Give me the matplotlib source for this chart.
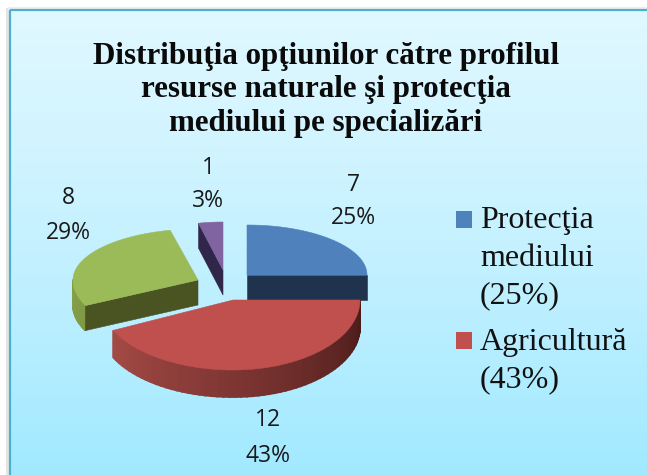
import numpy as np
import matplotlib
matplotlib.use("Agg")
import matplotlib.pyplot as plt
from matplotlib.colors import LinearSegmentedColormap, to_rgb
from matplotlib.patches import Polygon, Rectangle

title = "Distribuţia opţiunilor către profilul\nresurse naturale şi protecţia\nmediului pe specializări"
values = [7, 12, 8, 1]
percents = [25, 43, 29, 3]
legend_names = ["Protecţia\nmediului", "Agricultură"]

top_colors = ["#4f81bd", "#c0504d", "#9bbb59", "#8064a2"]
cut_colors = ["#1f334f", "#4a1c1a", "#4a5423", "#30264a"]
rim_left = ["#1f334f", "#a54a46", "#93ad52", "#30264a"]
rim_right = ["#1f334f", "#471a18", "#7f9a45", "#30264a"]
# apex x, apex y, rx right, rx left, ry back, ry front, depth
geom = [(247, 275, 120, 120, 50, 50, 25),
        (233, 300, 127, 133, 55, 70, 27),
        (198, 280, 122, 125, 51, 59, 25),
        (223, 270, 110, 110, 48, 48, 25)]
label_pos = [(353, 185, 218), (268, 420, 456), (68, 198, 233), (208, 168, 201)]

fig = plt.figure(figsize=(6.47, 4.75), dpi=100)
ax = fig.add_axes([0, 0, 1, 1])
ax.set_xlim(0, 647)
ax.set_ylim(475, 0)
ax.axis("off")

# background
ax.add_patch(Rectangle((6, 8), 4, 470, fc="#e4e4e4", ec="none", zorder=0))
ax.add_patch(Rectangle((8, 7), 645, 3, fc="#ececec", ec="none", zorder=0))
cmap = LinearSegmentedColormap.from_list("bg", ["#e1f8ff", "#c5f1ff", "#a0e9ff"])
ax.imshow(np.linspace(0, 1, 256)[:, None], extent=(10, 660, 485, 10), cmap=cmap,
          aspect="auto", zorder=1)
ax.set_xlim(0, 647)
ax.set_ylim(475, 0)
ax.add_patch(Rectangle((10, 10), 660, 490, fc="none", ec="#4bb1cc", lw=1.6, zorder=2))


def pt(g, t):
    ax0, ay0, rxr, rxl, ryb, ryf, _ = g
    s, c = np.sin(t), np.cos(t)
    x = ax0 + (rxr if s >= 0 else rxl) * s
    y = ay0 - (ryb if c >= 0 else ryf) * c
    return x, y


edges = np.deg2rad(np.concatenate([[0], np.cumsum(values)]) / sum(values) * 360)

for i in [3, 2, 0, 1]:
    g = geom[i]
    t0, t1 = edges[i], edges[i + 1]
    d = g[6]
    z = 3 + [3, 2, 0, 1].index(i) * 3
    ts = np.linspace(t0, t1, 60)
    # outer rim, drawn strip by strip on the front half
    c0, c1 = np.array(to_rgb(rim_right[i])), np.array(to_rgb(rim_left[i]))
    for a, b in zip(ts[:-1], ts[1:]):
        mid = (a + b) / 2
        if np.cos(mid) < 0:
            xa, ya = pt(g, a)
            xb, yb = pt(g, b)
            f = (mid - t0) / (t1 - t0)
            col = c0 + (c1 - c0) * f
            ax.add_patch(Polygon([(xa, ya), (xb, yb), (xb, yb + d), (xa, ya + d)],
                                 fc=col, ec=col, lw=1.3, zorder=z))
    # cut face
    cut_t = {0: t1, 2: t0, 3: t0}.get(i)
    if cut_t is not None:
        xr, yr = pt(g, cut_t)
        ax.add_patch(Polygon([(g[0], g[1]), (xr, yr), (xr, yr + d), (g[0], g[1] + d)],
                             fc=cut_colors[i], ec=cut_colors[i], lw=0.4, zorder=z + 1))
    # top surface
    arc = [pt(g, t) for t in ts]
    ax.add_patch(Polygon([(g[0], g[1])] + arc, fc=top_colors[i], ec=top_colors[i],
                         lw=0.4, zorder=z + 2))

# labels
lab_font = {"family": "Open Sans", "fontsize": 16.5, "color": "#1a1a1a",
            "ha": "center", "va": "center", "zorder": 30}
for v, p, (x, y1, y2) in zip(values, percents, label_pos):
    ax.text(x, y1, str(v), **lab_font)
    ax.text(x, y2, f"{p}%", **lab_font)

ax.text(326, 90, title, family="Liberation Serif", weight="bold", fontsize=22.3,
        ha="center", va="center", linespacing=1.22, color="#0a0a0a", zorder=30)

# legend
leg_font = {"family": "Liberation Serif", "fontsize": 23, "color": "#111111",
            "ha": "left", "va": "baseline", "zorder": 30}
leg_lines = [(211, [(228, "Protecţia"), (266, "mediului"), (303, f"({percents[0]}%)")]),
             (332, [(350, legend_names[1]), (387, f"({percents[1]}%)")])]
for i, (ys, lines) in enumerate(leg_lines):
    ax.add_patch(Rectangle((456, ys), 16, 17, fc=top_colors[i], ec="none", zorder=30))
    for y, s in lines:
        ax.text(480, y, s, **leg_font)

fig.savefig("out.png", dpi=100)
